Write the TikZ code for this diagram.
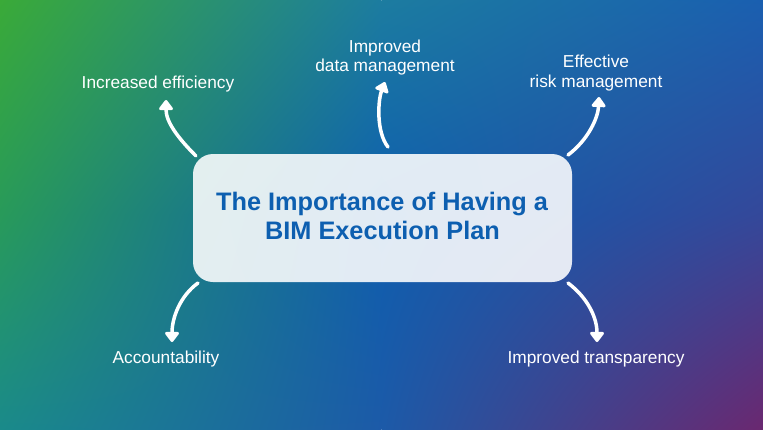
\documentclass[tikz,border=0pt]{standalone}
\usepackage{fontspec}
\setmainfont{Liberation Sans}
\usetikzlibrary{arrows.meta,shadings}
\definecolor{cTL}{HTML}{3AAA38}
\definecolor{cTM}{HTML}{1C7CA0}
\definecolor{cTR}{HTML}{1A5FB0}
\definecolor{cML}{HTML}{289A5A}
\definecolor{cC}{HTML}{0E5EAE}
\definecolor{cMR}{HTML}{34489A}
\definecolor{cBL}{HTML}{1A8A8A}
\definecolor{cBM}{HTML}{1C5AA8}
\definecolor{cBR}{HTML}{6A2870}
\definecolor{titleblue}{HTML}{0D5FB0}
\tikzset{
  card/.style={fill=white, fill opacity=0.88, rounded corners=20pt, minimum width=379pt, minimum height=128pt, inner sep=0pt},
  titletext/.style={text=titleblue, font=\fontsize{25.3}{29}\selectfont\bfseries, anchor=base, inner sep=0pt},
  labeltext/.style={text=white, font=\fontsize{17.3}{19}\selectfont, anchor=base, inner sep=0pt},
  arr/.style={draw=white, line width=3.5pt, line cap=round, -{Triangle[width=16pt,length=11pt,round]}}
}
\begin{document}
\begin{tikzpicture}[x=1pt,y=-1pt]
\useasboundingbox (0,0) rectangle (763,429);
% background gradient
\shade[upper left=cTL, upper right=cTM, lower left=cML, lower right=cC] (0,0) rectangle (381.5,214.5);
\shade[upper left=cTM, upper right=cTR, lower left=cC, lower right=cMR] (381.5,0) rectangle (763,214.5);
\shade[upper left=cML, upper right=cC, lower left=cBL, lower right=cBM] (0,214.5) rectangle (381.5,429);
\shade[upper left=cC, upper right=cMR, lower left=cBM, lower right=cBR] (381.5,214.5) rectangle (763,429);
% central card
\node[card] (box) at (382.5,218) {};
\node[titletext] (t1) at (382,210) {The Importance of Having a};
\node[titletext] (t2) at (382.5,239) {BIM Execution Plan};
% labels
\node[labeltext] (eff) at (158,88) {Increased efficiency};
\node[labeltext] (dataA) at (385,52) {Improved};
\node[labeltext] (dataB) at (385,71) {data management};
\node[labeltext] (riskA) at (596,67) {Effective};
\node[labeltext] (riskB) at (596,87) {risk management};
\node[labeltext] (acc) at (166,363) {Accountability};
\node[labeltext] (tra) at (596,363) {Improved transparency};
% arrow end points
\coordinate (s1) at (196,156);  \coordinate (e1) at (166,100);
\coordinate (s2) at (388,147);  \coordinate (e2) at (385,82);
\coordinate (s3) at (568,155);  \coordinate (e3) at (599,97);
\coordinate (s4) at (198,283);  \coordinate (e4) at (172,342);
\coordinate (s5) at (568,283);  \coordinate (e5) at (597,342);
% arrows
\draw[arr] (s1) .. controls (178,138) and (166,122) .. (e1);
\draw[arr] (s2) .. controls (376,132) and (378,100) .. (e2);
\draw[arr] (s3) .. controls (588,140) and (598,118) .. (e3);
\draw[arr] (s4) .. controls (180,296) and (172,318) .. (e4);
\draw[arr] (s5) .. controls (588,298) and (597,318) .. (e5);
\end{tikzpicture}
\end{document}
